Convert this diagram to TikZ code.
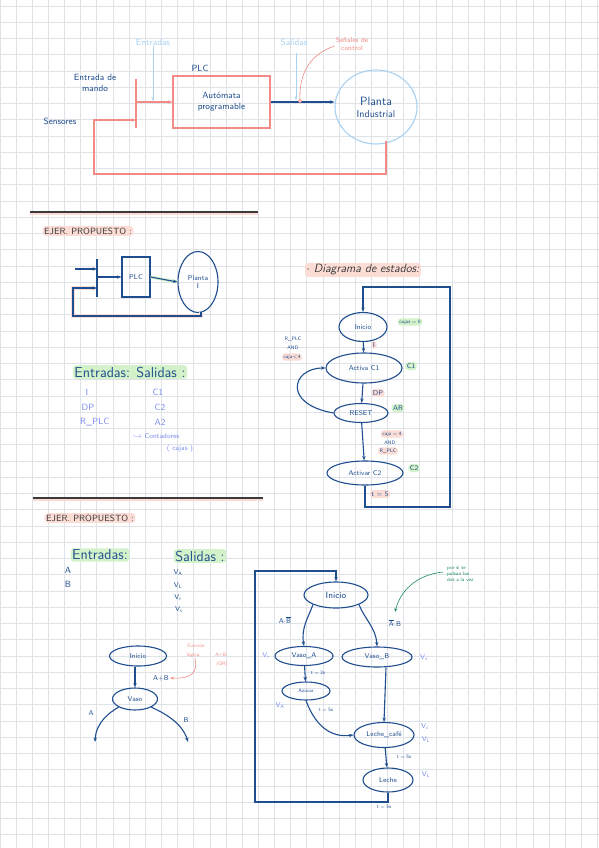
\documentclass[tikz,border=0pt]{standalone}
\usepackage{amsmath, amssymb}
\usepackage{xcolor}
\usepackage{tikz}
\usetikzlibrary{arrows.meta, positioning, shapes.geometric, backgrounds}
\definecolor{inkblue}{HTML}{1F4E8F}
\definecolor{skyblue}{HTML}{A9D2F2}
\definecolor{salmon}{HTML}{F28B85}
\definecolor{inkgreen}{HTML}{1B8A5A}
\definecolor{lavender}{HTML}{7C8CF2}
\definecolor{hlpink}{HTML}{FBDDD5}
\definecolor{hlgreen}{HTML}{D3F2C9}
\definecolor{gridgray}{HTML}{DFE2E6}
\definecolor{pencil}{HTML}{3A3A3A}
\tikzset{
  inktxt/.style={text=inkblue,font=\small\sffamily,inner sep=1pt},
  skytxt/.style={text=skyblue,font=\small\sffamily,inner sep=1pt},
  saltxt/.style={text=salmon,font=\scriptsize\sffamily,inner sep=1pt,align=center},
  lavtxt/.style={text=lavender,font=\small\sffamily,inner sep=1pt},
  pentxt/.style={text=pencil,font=\small\sffamily,inner sep=1pt},
  hlp/.style={fill=hlpink,rounded corners=3pt,inner sep=1.5pt},
  hlg/.style={fill=hlgreen,rounded corners=3pt,inner sep=1.5pt},
  stnode/.style={ellipse,draw=inkblue,line width=1.1pt,inner sep=0pt,text=inkblue,font=\scriptsize\sffamily,align=center},
  inkarr/.style={-{Stealth[length=4.5pt]},line width=1.1pt,inkblue},
  inkline/.style={line width=1.1pt,inkblue},
  pinkline/.style={line width=1.1pt,salmon},
  pinkarr/.style={-{Stealth[length=4.5pt]},line width=1.1pt,salmon},
  skyarr/.style={-{Stealth[length=4pt]},semithick,skyblue},
  greenarr/.style={-{Stealth[length=4pt]},semithick,inkgreen},
  sepline/.style={line width=1.1pt,pencil},
}

\begin{document}
\begin{tikzpicture}[x=1pt,y=-1pt]
  \useasboundingbox (0,0) rectangle (599,848);
  \fill[white] (0,0) rectangle (599,848);
  \foreach \gx in {0,16.15,...,599} \draw[gridgray,line width=0.9pt] (\gx,0) -- (\gx,848);
  \foreach \gy in {6,22.25,...,848} \draw[gridgray,line width=0.9pt] (0,\gy) -- (599,\gy);

  % bloque PLC
  \node[skytxt] (lEnt) at (153,42) {Entradas};
  \node[skytxt] (lSal) at (294,42) {Salidas};
  \node[saltxt] (lSen) at (352,44) {Señales de\\control};
  \node[inktxt] (lPLC) at (200,68) {PLC};
  \node[draw=salmon,line width=1.1pt,minimum width=97,minimum height=52,inner sep=0pt,
        text=inkblue,font=\small\sffamily,align=center] (plc) at (221.5,102) {Autómata\\programable};
  \node[inktxt,align=center] (lMando) at (95,83) {Entrada de\\mando};
  \node[inktxt] (lSens) at (60,121) {Sensores};
  \node[ellipse,draw=skyblue,line width=1.1pt,minimum width=82,minimum height=74,inner sep=0pt,
        text=inkblue,font=\large\sffamily,align=center] (planta) at (376,107) {Planta\\[-2pt]{\normalsize Industrial}};
  \coordinate (busT) at (136,79);
  \coordinate (busB) at (136,128);
  \coordinate (busIn) at (136,102);
  \coordinate (sensIn) at (136,120);
  \coordinate (entTip) at (153,101);
  \coordinate (salTip) at (296,100);
  \coordinate (ctrlPt) at (300,101);
  \coordinate (fbA) at (386,141);
  \draw[pinkline] (busT) -- (busB);
  \draw[pinkarr] (busIn) -- (plc.west);
  \draw[skyarr] (lEnt.south) -- (entTip);
  \draw[inkarr] (plc.east |- busIn) -- (planta.west |- busIn);
  \draw[skyarr] (lSal.south -| salTip) ++(0,6) -- (salTip);
  \draw[salmon,semithick] (lSen.west) ++(0,2) .. controls (305,56) and (299,80) .. (ctrlPt);
  \draw[salmon,semithick,fill=white] (ctrlPt) circle (1.6);
  \draw[pinkarr] (fbA) |- (94,174) |- (sensIn);

  % separador
  \draw[hlpink,line width=4pt] (30,213) -- (258,213);
  \draw[sepline] (30,212) -- (258,212);
  \node[pentxt,hlp] (tEj1) at (88,231) {EJER. PROPUESTO :};

  % esquema PLC
  \coordinate (bus2T) at (97,259);
  \coordinate (bus2B) at (97,297);
  \coordinate (in2) at (75,269);
  \coordinate (fb2) at (201,312);
  \node[draw=inkblue,line width=1.1pt,minimum width=28,minimum height=40,inner sep=0pt,
        text=inkblue,font=\scriptsize\sffamily] (plc2) at (136,277) {PLC};
  \node[stnode,minimum width=40,minimum height=61] (planta2) at (198,282) {Planta\\I};
  \draw[inkline] (bus2T) -- (bus2B);
  \draw[inkarr] (in2) -- (in2 -| bus2T);
  \draw[inkarr] (bus2T |- plc2.west) -- (plc2.west);
  \draw[hlgreen,line width=3pt] (plc2.east) -- (planta2.west);
  \draw[inkarr] (plc2.east) -- (planta2.west);
  \draw[hlpink,line width=4pt] (fb2) |- (73,316) |- (94,288);
  \draw[inkarr] (fb2) |- (73,316) |- (bus2T |- 0,288);

  % diagrama de estados
  \node[pentxt,hlp,font=\large\sffamily\itshape] (tDiag) at (363,270) {$\cdot$ Diagrama de estados:};
  \node[stnode,minimum width=48,minimum height=29] (sIni) at (363,327) {Inicio};
  \node[stnode,minimum width=76,minimum height=30] (sAc1) at (364,368) {Activa C1};
  \node[stnode,minimum width=54,minimum height=19] (sRes) at (361,413) {RESET};
  \node[stnode,minimum width=76,minimum height=24] (sAc2) at (365,473) {Activar C2};
  \coordinate (lpTR) at (450,287);
  \coordinate (lpBR) at (450,507);
  \draw[inkarr] (sIni) -- (sAc1);
  \draw[inkarr] (sAc1) -- (sRes);
  \draw[inkarr] (sRes) -- (sAc2);
  \draw[inkarr] (sRes.west) .. controls (282,404) and (292,368) .. (sAc1.west);
  \draw[inkarr] (sAc2.south) |- (lpBR) -- (lpTR) -| (sIni.north);
  \node[inktxt,hlg,font=\tiny\sffamily] (gCaj) at (410,322) {cajas = 0};
  \node[inktxt,hlg,font=\scriptsize\sffamily] (gC1) at (411,366) {C1};
  \node[inktxt,hlg,font=\scriptsize\sffamily] (gAR) at (398,408) {AR};
  \node[inktxt,hlg,font=\scriptsize\sffamily] (gC2) at (414,468) {C2};
  \node[inktxt,hlp,font=\scriptsize\sffamily] (eI) at (374,345) {I};
  \node[inktxt,hlp,font=\scriptsize\sffamily] (eDP) at (378,393) {DP};
  \node[inktxt,font=\tiny\sffamily] (eR1) at (293,339) {R\_PLC};
  \node[inktxt,font=\tiny\sffamily] (eAnd1) at (293,348) {AND};
  \node[inktxt,hlp,font=\tiny\sffamily] (eCaj1) at (292,357) {caja$<$4};
  \node[inktxt,hlp,font=\tiny\sffamily] (eCaj2) at (392,434) {caja = 4};
  \node[inktxt,font=\tiny\sffamily] (eAnd2) at (390,443) {AND};
  \node[inktxt,hlp,font=\tiny\sffamily] (eR2) at (388,451) {R\_PLC};
  \node[inktxt,hlp,font=\scriptsize\sffamily] (eT5) at (380,494) {t = 5};

  % entradas / salidas
  \node[inktxt,hlg,font=\Large\sffamily] (tES) at (130,372) {Entradas: Salidas :};
  \node[lavtxt] (iI) at (87,392) {I};
  \node[lavtxt] (iDP) at (88,407) {DP};
  \node[lavtxt,anchor=west] (iRPLC) at (79,422) {R\_PLC};
  \node[lavtxt] (oC1) at (158,392) {C1};
  \node[lavtxt] (oC2) at (160,407) {C2};
  \node[lavtxt] (oA2) at (160,422) {A2};
  \node[lavtxt,font=\scriptsize\sffamily,anchor=west] (oCont) at (132,436) {$\hookrightarrow$ Contadores};
  \node[lavtxt,font=\scriptsize\sffamily] (oCaj) at (180,449) {( cajas )};

  % separador
  \draw[hlpink,line width=4pt] (33,499) -- (263,499);
  \draw[sepline] (33,498) -- (263,498);
  \node[pentxt,hlp] (tEj2) at (90,518) {EJER. PROPUESTO :};

  \node[inktxt,hlg,font=\Large\sffamily] (tEnt) at (100,555) {Entradas:};
  \node[inktxt,hlg,font=\Large\sffamily] (tSal) at (200,556) {Salidas :};
  \node[inktxt] (iA) at (68,570) {A};
  \node[inktxt] (iB) at (68,584) {B};
  \node[inktxt,font=\scriptsize\sffamily] (oVA) at (178,573) {V$_\text{A}$};
  \node[inktxt,font=\scriptsize\sffamily] (oVL) at (178,586) {V$_\text{L}$};
  \node[inktxt,font=\scriptsize\sffamily] (oVr) at (178,598) {V$_\text{r}$};
  \node[inktxt,font=\scriptsize\sffamily] (oVc) at (179,610) {V$_\text{c}$};

  % diagrama pequeño
  \node[stnode,minimum width=57,minimum height=20] (pIni) at (138,656) {Inicio};
  \node[stnode,minimum width=45,minimum height=22] (pVaso) at (135,699) {Vaso};
  \coordinate (pA) at (95,742);
  \coordinate (pB) at (188,742);
  \draw[inkarr] (pIni.south -| pVaso.north) -- (pVaso.north);
  \draw[inkarr] (pVaso.south west) .. controls (110,712) and (96,722) .. (pA);
  \draw[inkarr] (pVaso.south east) .. controls (162,712) and (182,722) .. (pB);
  \node[inktxt,font=\scriptsize\sffamily] (lAB) at (161,678) {A+B};
  \node[inktxt,font=\scriptsize\sffamily] (lA) at (91,713) {A};
  \node[inktxt,font=\scriptsize\sffamily] (lB) at (186,720) {B};
  \node[saltxt,font=\tiny\sffamily] (nFun) at (196,646) {Función};
  \node[saltxt,font=\tiny\sffamily] (nLog) at (193,655) {lógica};
  \node[saltxt,font=\tiny\sffamily] (nAB) at (221,655) {A+B};
  \node[saltxt,font=\tiny\sffamily] (nOR) at (222,664) {(OR)};
  \draw[-{Stealth[length=4pt]},semithick,salmon] (nLog.south) ++(2,0) .. controls (198,672) and (192,679) .. (lAB.east);

  % diagrama grande
  \node[stnode,minimum width=64,minimum height=26,font=\small\sffamily] (bIni) at (336,595) {Inicio};
  \node[stnode,minimum width=58,minimum height=19] (bVA) at (304,656) {Vaso\_A};
  \node[stnode,minimum width=70,minimum height=20] (bVB) at (377,657) {Vaso\_B};
  \node[stnode,minimum width=48,minimum height=18,font=\tiny\sffamily] (bAzu) at (306,691) {Azúcar};
  \node[stnode,minimum width=60,minimum height=25] (bLC) at (384,735) {Leche\_café};
  \node[stnode,minimum width=50,minimum height=24] (bLe) at (388,780) {Leche};
  \coordinate (bTL) at (255,571);
  \coordinate (bBL) at (255,802);
  \draw[inkarr] (bIni.south west) .. controls (308,618) and (301,628) .. (bVA.north);
  \draw[inkarr] (bIni.south east) .. controls (364,618) and (376,628) .. (bVB.north);
  \draw[inkarr] (bVA) -- (bAzu);
  \draw[inkarr] (bAzu.south) .. controls (315,725) and (330,738) .. (bLC.west);
  \draw[inkarr] (bVB.south) ++(9,0) -- (bLC.north);
  \draw[inkarr] (bLC) -- (bLe);
  \draw[inkarr] (bLe.south) |- (bBL) -- (bTL) -| (bIni.north);
  \node[inktxt,font=\scriptsize\sffamily] (cAB1) at (285,620) {A$\cdot\overline{\text{B}}$};
  \node[inktxt,font=\scriptsize\sffamily] (cAB2) at (395,623) {$\overline{\text{A}}\cdot$B};
  \node[inktxt,font=\tiny\sffamily] (cT2) at (318,673) {t = 2s};
  \node[inktxt,font=\tiny\sffamily] (cT5a) at (326,710) {t = 5s};
  \node[inktxt,font=\tiny\sffamily] (cT5b) at (404,757) {t = 5s};
  \node[inktxt,font=\tiny\sffamily] (cT5c) at (384,807) {t = 5s};
  \node[lavtxt,font=\scriptsize\sffamily] (vr) at (266,656) {V$_\text{r}$};
  \node[lavtxt,font=\scriptsize\sffamily] (vv) at (424,658) {V$_\text{v}$};
  \node[lavtxt,font=\scriptsize\sffamily] (va) at (280,706) {V$_\text{A}$};
  \node[lavtxt,font=\scriptsize\sffamily] (vc) at (425,727) {V$_\text{c}$};
  \node[lavtxt,font=\scriptsize\sffamily] (vl1) at (426,740) {V$_\text{L}$};
  \node[lavtxt,font=\scriptsize\sffamily] (vl2) at (426,775) {V$_\text{L}$};
  \node[text=inkgreen,font=\tiny\sffamily,align=left,anchor=north west,inner sep=0pt] (nVez) at (447,566) {por si se\\pulsan los\\dos a la vez};
  \draw[greenarr] (443,572) .. controls (415,575) and (400,592) .. (395,612);
\end{tikzpicture}
\end{document}
